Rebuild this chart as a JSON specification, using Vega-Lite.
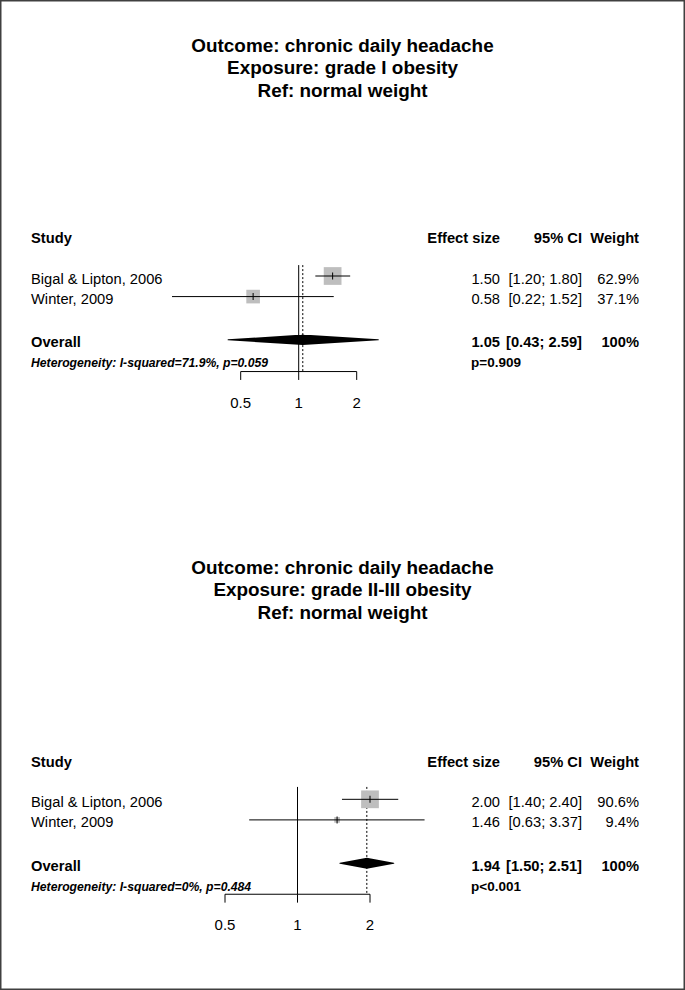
{
  "$schema": "https://vega.github.io/schema/vega-lite/v6.json",
  "width": 685,
  "height": 990,
  "autosize": {"type": "fit", "contains": "padding"},
  "padding": 0,
  "background": "white",
  "config": {
    "view": {"stroke": "#404040", "strokeWidth": 3},
    "font": "Liberation Sans",
    "text": {"font": "Liberation Sans", "color": "black"}
  },
  "datasets": {
    "titles": [
      {"panel": 1, "row": 1.88, "text": "Outcome: chronic daily headache"},
      {"panel": 1, "row": 2.95, "text": "Exposure: grade I obesity"},
      {"panel": 1, "row": 4.02, "text": "Ref: normal weight"},
      {"panel": 2, "row": 26.73, "text": "Outcome: chronic daily headache"},
      {"panel": 2, "row": 27.8, "text": "Exposure: grade II-III obesity"},
      {"panel": 2, "row": 28.87, "text": "Ref: normal weight"}
    ],
    "table": [
      {"panel": 1, "kind": "header", "row": 11.06, "study": "Study", "effect": "Effect size", "ci": "95% CI", "weight": "Weight"},
      {"panel": 1, "kind": "study", "row": 13.0, "study": "Bigal & Lipton, 2006", "effect": "1.50", "ci": "[1.20; 1.80]", "weight": "62.9%", "est": 1.5, "lo": 1.22, "hi": 1.85, "w": 62.9},
      {"panel": 1, "kind": "study", "row": 13.98, "study": "Winter, 2009", "effect": "0.58", "ci": "[0.22; 1.52]", "weight": "37.1%", "est": 0.58, "lo": 0.22, "hi": 1.52, "w": 37.1},
      {"panel": 1, "kind": "overall", "row": 16.04, "study": "Overall", "effect": "1.05", "ci": "[0.43; 2.59]", "weight": "100%", "est": 1.05, "lo": 0.43, "hi": 2.59},
      {"panel": 1, "kind": "het", "row": 16.97, "study": "Heterogeneity: I-squared=71.9%, p=0.059", "pval": "p=0.909"},
      {"panel": 2, "kind": "header", "row": 36.0, "study": "Study", "effect": "Effect size", "ci": "95% CI", "weight": "Weight"},
      {"panel": 2, "kind": "study", "row": 37.92, "study": "Bigal & Lipton, 2006", "effect": "2.00", "ci": "[1.40; 2.40]", "weight": "90.6%", "est": 2.0, "lo": 1.53, "hi": 2.62, "w": 90.6},
      {"panel": 2, "kind": "study", "row": 38.9, "study": "Winter, 2009", "effect": "1.46", "ci": "[0.63; 3.37]", "weight": "9.4%", "est": 1.46, "lo": 0.63, "hi": 3.37, "w": 9.4},
      {"panel": 2, "kind": "overall", "row": 40.96, "study": "Overall", "effect": "1.94", "ci": "[1.50; 2.51]", "weight": "100%", "est": 1.94, "lo": 1.5, "hi": 2.51},
      {"panel": 2, "kind": "het", "row": 41.92, "study": "Heterogeneity: I-squared=0%, p=0.484", "pval": "p<0.001"}
    ],
    "panels": [
      {"panel": 1, "top": 12.48, "base": 17.55, "pooled": 1.05, "amin": 0.5, "amax": 2},
      {"panel": 2, "top": 37.33, "base": 42.44, "pooled": 1.94, "amin": 0.5, "amax": 2}
    ],
    "ticks": [
      {"panel": 1, "value": 0.5, "label": "0.5", "base": 17.55, "tickend": 17.95, "labelrow": 18.9},
      {"panel": 1, "value": 1, "label": "1", "base": 17.55, "tickend": 17.95, "labelrow": 18.9},
      {"panel": 1, "value": 2, "label": "2", "base": 17.55, "tickend": 17.95, "labelrow": 18.9},
      {"panel": 2, "value": 0.5, "label": "0.5", "base": 42.44, "tickend": 42.84, "labelrow": 43.72},
      {"panel": 2, "value": 1, "label": "1", "base": 42.44, "tickend": 42.84, "labelrow": 43.72},
      {"panel": 2, "value": 2, "label": "2", "base": 42.44, "tickend": 42.84, "labelrow": 43.72}
    ]
  },
  "resolve": {"scale": {"x": "independent", "size": "independent"}},
  "layer": [
    {
      "layer": [
        {
          "data": {"name": "panels"},
          "transform": [{"filter": "datum.panel === 1"}],
          "mark": {"type": "rule", "color": "black", "strokeWidth": 1},
          "encoding": {
            "x": {"datum": 1, "type": "quantitative", "scale": {"type": "log", "domain": [0.5, 2], "range": [240.7, 356.7], "nice": false}, "axis": null},
            "y": {"field": "top", "type": "quantitative", "scale": {"domain": [-0.143, 47], "reverse": true, "nice": false, "zero": false}, "axis": null},
            "y2": {"field": "base"}
          }
        },
        {
          "data": {"name": "panels"},
          "transform": [{"filter": "datum.panel === 1"}],
          "mark": {"type": "rule", "color": "black", "strokeWidth": 1, "strokeDash": [2, 2]},
          "encoding": {
            "x": {"field": "pooled", "type": "quantitative"},
            "y": {"field": "top", "type": "quantitative"},
            "y2": {"field": "base"}
          }
        },
        {
          "data": {"name": "panels"},
          "transform": [{"filter": "datum.panel === 1"}],
          "mark": {"type": "rule", "color": "black", "strokeWidth": 1},
          "encoding": {
            "x": {"field": "amin", "type": "quantitative"},
            "x2": {"field": "amax"},
            "y": {"field": "base", "type": "quantitative"}
          }
        },
        {
          "data": {"name": "ticks"},
          "transform": [{"filter": "datum.panel === 1"}],
          "mark": {"type": "rule", "color": "black", "strokeWidth": 1},
          "encoding": {
            "x": {"field": "value", "type": "quantitative"},
            "y": {"field": "base", "type": "quantitative"},
            "y2": {"field": "tickend"}
          }
        },
        {
          "data": {"name": "ticks"},
          "transform": [{"filter": "datum.panel === 1"}],
          "mark": {"type": "text", "align": "center", "baseline": "middle", "dy": 3.5, "fontSize": 15, "color": "black"},
          "encoding": {
            "x": {"field": "value", "type": "quantitative"},
            "y": {"field": "labelrow", "type": "quantitative"},
            "text": {"field": "label"}
          }
        },
        {
          "data": {"name": "table"},
          "transform": [{"filter": "datum.panel === 1 && datum.kind === 'study'"}],
          "mark": {"type": "point", "shape": "square", "filled": true, "color": "#BEBEBE", "opacity": 1, "strokeWidth": 0},
          "encoding": {
            "x": {"field": "est", "type": "quantitative"},
            "y": {"field": "row", "type": "quantitative"},
            "size": {"field": "w", "type": "quantitative", "scale": {"range": [0, 315], "zero": true}, "legend": null}
          }
        },
        {
          "data": {"name": "table"},
          "transform": [{"filter": "datum.panel === 1 && datum.kind === 'study'"}],
          "mark": {"type": "rule", "color": "black", "strokeWidth": 1},
          "encoding": {
            "x": {"field": "lo", "type": "quantitative"},
            "x2": {"field": "hi"},
            "y": {"field": "row", "type": "quantitative"}
          }
        },
        {
          "data": {"name": "table"},
          "transform": [{"filter": "datum.panel === 1 && datum.kind === 'study'"}],
          "mark": {"type": "tick", "orient": "vertical", "size": 7, "thickness": 1, "color": "black", "opacity": 1},
          "encoding": {
            "x": {"field": "est", "type": "quantitative"},
            "y": {"field": "row", "type": "quantitative"}
          }
        },
        {
          "data": {"name": "table"},
          "transform": [
            {"filter": "datum.panel === 1 && datum.kind === 'overall'"},
            {"fold": ["lo", "est", "hi"], "as": ["key", "value"]}
          ],
          "mark": {"type": "trail", "color": "black", "opacity": 1},
          "encoding": {
            "x": {"field": "value", "type": "quantitative"},
            "y": {"field": "row", "type": "quantitative"},
            "order": {"field": "value", "type": "quantitative"},
            "size": {"condition": {"test": "datum.key === 'est'", "value": 10.5}, "value": 0}
          }
        }
      ]
    },
    {
      "layer": [
        {
          "data": {"name": "panels"},
          "transform": [{"filter": "datum.panel === 2"}],
          "mark": {"type": "rule", "color": "black", "strokeWidth": 1},
          "encoding": {
            "x": {"datum": 1, "type": "quantitative", "scale": {"type": "log", "domain": [0.5, 2], "range": [225, 370], "nice": false}, "axis": null},
            "y": {"field": "top", "type": "quantitative", "scale": {"domain": [-0.143, 47], "reverse": true, "nice": false, "zero": false}, "axis": null},
            "y2": {"field": "base"}
          }
        },
        {
          "data": {"name": "panels"},
          "transform": [{"filter": "datum.panel === 2"}],
          "mark": {"type": "rule", "color": "black", "strokeWidth": 1, "strokeDash": [2, 2]},
          "encoding": {
            "x": {"field": "pooled", "type": "quantitative"},
            "y": {"field": "top", "type": "quantitative"},
            "y2": {"field": "base"}
          }
        },
        {
          "data": {"name": "panels"},
          "transform": [{"filter": "datum.panel === 2"}],
          "mark": {"type": "rule", "color": "black", "strokeWidth": 1},
          "encoding": {
            "x": {"field": "amin", "type": "quantitative"},
            "x2": {"field": "amax"},
            "y": {"field": "base", "type": "quantitative"}
          }
        },
        {
          "data": {"name": "ticks"},
          "transform": [{"filter": "datum.panel === 2"}],
          "mark": {"type": "rule", "color": "black", "strokeWidth": 1},
          "encoding": {
            "x": {"field": "value", "type": "quantitative"},
            "y": {"field": "base", "type": "quantitative"},
            "y2": {"field": "tickend"}
          }
        },
        {
          "data": {"name": "ticks"},
          "transform": [{"filter": "datum.panel === 2"}],
          "mark": {"type": "text", "align": "center", "baseline": "middle", "dy": 3.5, "fontSize": 15, "color": "black"},
          "encoding": {
            "x": {"field": "value", "type": "quantitative"},
            "y": {"field": "labelrow", "type": "quantitative"},
            "text": {"field": "label"}
          }
        },
        {
          "data": {"name": "table"},
          "transform": [{"filter": "datum.panel === 2 && datum.kind === 'study'"}],
          "mark": {"type": "point", "shape": "square", "filled": true, "color": "#BEBEBE", "opacity": 1, "strokeWidth": 0},
          "encoding": {
            "x": {"field": "est", "type": "quantitative"},
            "y": {"field": "row", "type": "quantitative"},
            "size": {"field": "w", "type": "quantitative", "scale": {"range": [0, 315], "zero": true}, "legend": null}
          }
        },
        {
          "data": {"name": "table"},
          "transform": [{"filter": "datum.panel === 2 && datum.kind === 'study'"}],
          "mark": {"type": "rule", "color": "black", "strokeWidth": 1},
          "encoding": {
            "x": {"field": "lo", "type": "quantitative"},
            "x2": {"field": "hi"},
            "y": {"field": "row", "type": "quantitative"}
          }
        },
        {
          "data": {"name": "table"},
          "transform": [{"filter": "datum.panel === 2 && datum.kind === 'study'"}],
          "mark": {"type": "tick", "orient": "vertical", "size": 7, "thickness": 1, "color": "black", "opacity": 1},
          "encoding": {
            "x": {"field": "est", "type": "quantitative"},
            "y": {"field": "row", "type": "quantitative"}
          }
        },
        {
          "data": {"name": "table"},
          "transform": [
            {"filter": "datum.panel === 2 && datum.kind === 'overall'"},
            {"fold": ["lo", "est", "hi"], "as": ["key", "value"]}
          ],
          "mark": {"type": "trail", "color": "black", "opacity": 1},
          "encoding": {
            "x": {"field": "value", "type": "quantitative"},
            "y": {"field": "row", "type": "quantitative"},
            "order": {"field": "value", "type": "quantitative"},
            "size": {"condition": {"test": "datum.key === 'est'", "value": 11}, "value": 0}
          }
        }
      ]
    },
    {
      "layer": [
        {
          "data": {"name": "titles"},
          "mark": {"type": "text", "align": "center", "baseline": "middle", "dy": 3.5, "fontSize": 18.9, "fontWeight": "bold", "color": "black"},
          "encoding": {
            "x": {"datum": 1, "type": "quantitative", "scale": {"domain": [0, 1, 2, 3, 4, 5], "range": [31, 342.5, 471, 500, 582, 639], "nice": false, "zero": false}, "axis": null},
            "y": {"field": "row", "type": "quantitative", "scale": {"domain": [-0.143, 47], "reverse": true, "nice": false, "zero": false}, "axis": null},
            "text": {"field": "text"}
          }
        },
        {
          "data": {"name": "table"},
          "transform": [{"filter": "datum.kind === 'study'"}],
          "mark": {"type": "text", "align": "left", "baseline": "middle", "dy": 3.5, "fontSize": 14.7, "color": "black"},
          "encoding": {
            "x": {"datum": 0, "type": "quantitative"},
            "y": {"field": "row", "type": "quantitative"},
            "text": {"field": "study"}
          }
        },
        {
          "data": {"name": "table"},
          "transform": [{"filter": "datum.kind === 'header' || datum.kind === 'overall'"}],
          "mark": {"type": "text", "align": "left", "baseline": "middle", "dy": 3.5, "fontSize": 14.7, "fontWeight": "bold", "color": "black"},
          "encoding": {
            "x": {"datum": 0, "type": "quantitative"},
            "y": {"field": "row", "type": "quantitative"},
            "text": {"field": "study"}
          }
        },
        {
          "data": {"name": "table"},
          "transform": [{"filter": "datum.kind === 'het'"}],
          "mark": {"type": "text", "align": "left", "baseline": "middle", "dy": 3.5, "fontSize": 12.2, "fontWeight": "bold", "fontStyle": "italic", "color": "black"},
          "encoding": {
            "x": {"datum": 0, "type": "quantitative"},
            "y": {"field": "row", "type": "quantitative"},
            "text": {"field": "study"}
          }
        },
        {
          "data": {"name": "table"},
          "transform": [{"filter": "datum.kind === 'het'"}],
          "mark": {"type": "text", "align": "left", "baseline": "middle", "dy": 3.5, "fontSize": 13.5, "fontWeight": "bold", "color": "black"},
          "encoding": {
            "x": {"datum": 2, "type": "quantitative"},
            "y": {"field": "row", "type": "quantitative"},
            "text": {"field": "pval"}
          }
        },
        {
          "data": {"name": "table"},
          "transform": [{"filter": "datum.kind === 'study'"}],
          "mark": {"type": "text", "align": "right", "baseline": "middle", "dy": 3.5, "fontSize": 14.7, "color": "black"},
          "encoding": {
            "x": {"datum": 3, "type": "quantitative"},
            "y": {"field": "row", "type": "quantitative"},
            "text": {"field": "effect"}
          }
        },
        {
          "data": {"name": "table"},
          "transform": [{"filter": "datum.kind === 'header' || datum.kind === 'overall'"}],
          "mark": {"type": "text", "align": "right", "baseline": "middle", "dy": 3.5, "fontSize": 14.7, "fontWeight": "bold", "color": "black"},
          "encoding": {
            "x": {"datum": 3, "type": "quantitative"},
            "y": {"field": "row", "type": "quantitative"},
            "text": {"field": "effect"}
          }
        },
        {
          "data": {"name": "table"},
          "transform": [{"filter": "datum.kind === 'study'"}],
          "mark": {"type": "text", "align": "right", "baseline": "middle", "dy": 3.5, "fontSize": 14.7, "color": "black"},
          "encoding": {
            "x": {"datum": 4, "type": "quantitative"},
            "y": {"field": "row", "type": "quantitative"},
            "text": {"field": "ci"}
          }
        },
        {
          "data": {"name": "table"},
          "transform": [{"filter": "datum.kind === 'header' || datum.kind === 'overall'"}],
          "mark": {"type": "text", "align": "right", "baseline": "middle", "dy": 3.5, "fontSize": 14.7, "fontWeight": "bold", "color": "black"},
          "encoding": {
            "x": {"datum": 4, "type": "quantitative"},
            "y": {"field": "row", "type": "quantitative"},
            "text": {"field": "ci"}
          }
        },
        {
          "data": {"name": "table"},
          "transform": [{"filter": "datum.kind === 'study'"}],
          "mark": {"type": "text", "align": "right", "baseline": "middle", "dy": 3.5, "fontSize": 14.7, "color": "black"},
          "encoding": {
            "x": {"datum": 5, "type": "quantitative"},
            "y": {"field": "row", "type": "quantitative"},
            "text": {"field": "weight"}
          }
        },
        {
          "data": {"name": "table"},
          "transform": [{"filter": "datum.kind === 'header' || datum.kind === 'overall'"}],
          "mark": {"type": "text", "align": "right", "baseline": "middle", "dy": 3.5, "fontSize": 14.7, "fontWeight": "bold", "color": "black"},
          "encoding": {
            "x": {"datum": 5, "type": "quantitative"},
            "y": {"field": "row", "type": "quantitative"},
            "text": {"field": "weight"}
          }
        }
      ]
    }
  ]
}
